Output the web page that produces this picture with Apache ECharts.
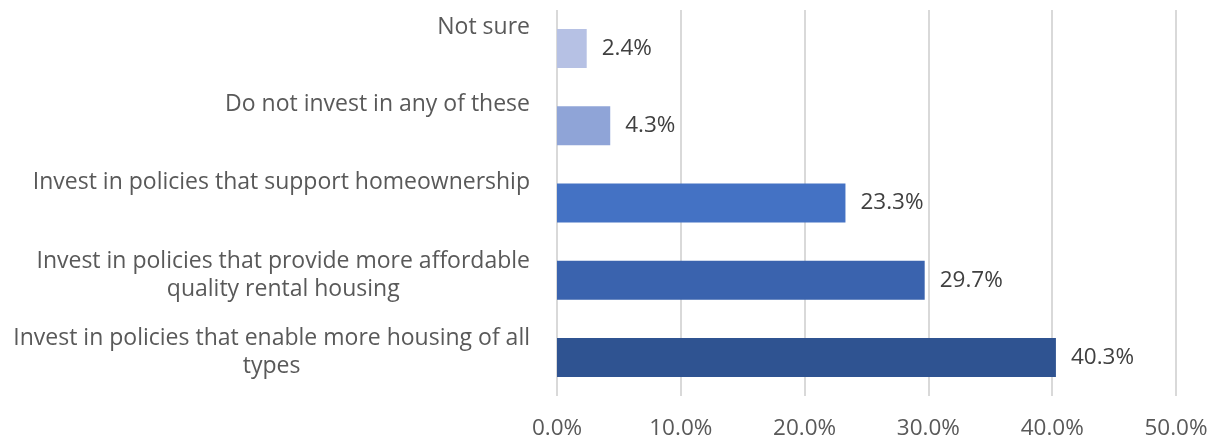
<!DOCTYPE html>
<html>
<head>
<meta charset="utf-8">
<script src="https://cdn.jsdelivr.net/npm/echarts@6/dist/echarts.min.js"></script>
<style>
html,body{margin:0;padding:0;background:#fff;}
#chart{width:1217px;height:442px;}
</style>
</head>
<body>
<div id="chart"></div>
<script>
// Categories listed bottom to top
const categories = [
  "Invest in policies that enable more housing of all\ntypes",
  "Invest in policies that provide more affordable\nquality rental housing",
  "Invest in policies that support homeownership",
  "Do not invest in any of these",
  "Not sure"
];
const values = [40.3, 29.7, 23.3, 4.3, 2.4];
const barColors = ["#2F5391", "#3A63AE", "#4472C4", "#8FA4D7", "#B6C1E4"];
const xTicks = [0, 10, 20, 30, 40, 50];

const FONT = "Open Sans";
const CAT_FS = 23;
const FS = 22.5;

const chart = echarts.init(document.getElementById('chart'), null, {renderer: 'canvas'});
chart.setOption({
  animation: false,
  grid: {left: 557, right: 41, top: 10, bottom: 46, containLabel: false},
  xAxis: {
    type: 'value',
    min: xTicks[0],
    max: xTicks[xTicks.length - 1],
    interval: 10,
    axisLine: {show: false},
    axisTick: {show: false},
    splitLine: {show: true, lineStyle: {color: '#D9D9D9', width: 2}},
    axisLabel: {
      margin: 21,
      color: '#595959',
      fontFamily: FONT,
      fontSize: FS,
      formatter: v => v.toFixed(1) + '%'
    }
  },
  yAxis: {
    type: 'category',
    data: categories,
    axisLine: {show: false},
    axisTick: {show: false},
    axisLabel: {
      margin: 27,
      align: 'right',
      formatter: function (val) {
        const lines = val.split('\n');
        const body = lines.map(l => '{c|' + l + '}').join('\n');
        return body + '\n' + (lines.length === 1 ? '{sp1| }' : '{sp2| }');
      },
      rich: {
        c: {align: 'center', lineHeight: 28, color: '#595959', fontFamily: FONT, fontSize: CAT_FS},
        sp1: {align: 'center', lineHeight: 42, height: 42, fontSize: 4},
        sp2: {align: 'center', lineHeight: 10, height: 10, fontSize: 4}
      }
    }
  },
  series: [{
    type: 'bar',
    barWidth: 39,
    data: values.map((v, i) => ({value: v, itemStyle: {color: barColors[i]}})),
    label: {
      show: true,
      position: 'right',
      distance: 15,
      color: '#404040',
      fontFamily: FONT,
      fontSize: FS,
      formatter: p => p.value.toFixed(1) + '%'
    }
  }]
});
</script>
</body>
</html>
